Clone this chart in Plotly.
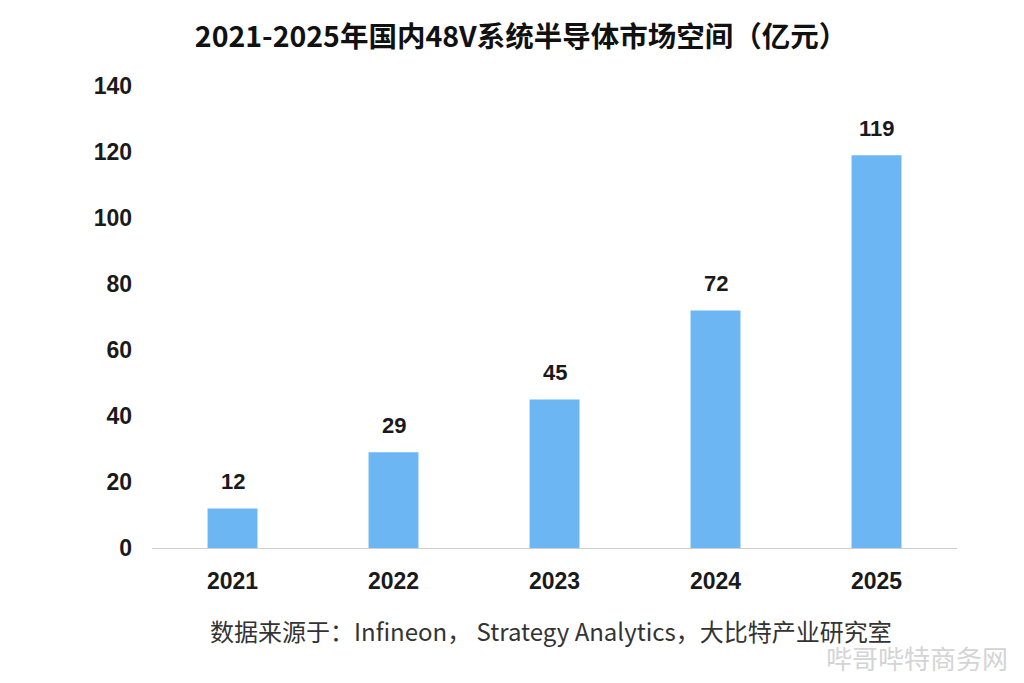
import plotly.graph_objects as go

years = ["2021", "2022", "2023", "2024", "2025"]
values = [12, 29, 45, 72, 119]
y_ticks = [0, 20, 40, 60, 80, 100, 120, 140]

title_text = "2021-2025年国内48V系统半导体市场空间（亿元）"
source_text = "数据来源于：Infineon， Strategy Analytics，大比特产业研究室"
watermark_text = "哔哥哔特商务网"

num_font = "Liberation Sans, Arial, Noto Sans CJK SC"
cjk_font = "Noto Sans CJK SC, Liberation Sans"

# plot area geometry (figure pixels)
L, R, T, B = 144, 949, 78, 540
W, H = 1024, 683

fig = go.Figure()
fig.add_trace(go.Bar(
    x=years, y=values,
    marker=dict(color="#6db6f4", line=dict(width=0)),
    width=0.31,
    hoverinfo="skip",
))

# value labels: category axis positions are addressed by index
for i, v in enumerate(values):
    fig.add_annotation(
        x=i, y=v, xref="x", yref="y", text=f"<b>{v}</b>", showarrow=False,
        yshift=27, yanchor="middle",
        font=dict(family=num_font, size=22, color="#1a1a1a"),
    )

fig.update_layout(
    width=W, height=H,
    margin=dict(l=L, r=W - R, t=T, b=H - B, autoexpand=False),
    paper_bgcolor="white", plot_bgcolor="white",
    showlegend=False,
    title=dict(
        text="<b>" + title_text + "</b>",
        x=513 / W, xanchor="center", y=1 - 29 / H, yanchor="middle",
        font=dict(family=cjk_font, size=28.5, color="#111111"),
    ),
)

fig.add_annotation(
    x=(543 - L) / (R - L), y=-(622 - B) / (B - T), xref="paper", yref="paper",
    text=source_text, showarrow=False, xanchor="center", yanchor="middle",
    font=dict(family=cjk_font, size=24, color="#333333"),
)
fig.add_annotation(
    x=(1002 - L) / (R - L), y=-(649 - B) / (B - T), xref="paper", yref="paper",
    text=watermark_text, showarrow=False, xanchor="right", yanchor="middle",
    font=dict(family=cjk_font, size=26, color="#d4d4d4"),
)

fig.update_xaxes(
    type="category", categoryorder="array", categoryarray=years, range=[-0.5, 4.5],
    showgrid=False, showline=True, linecolor="#d0d0d0", linewidth=1,
    ticks="", tickfont=dict(family=num_font, size=23, color="#1a1a1a", weight="bold"),
    ticklabelstandoff=12,
)
fig.update_yaxes(
    range=[0, 140], tickvals=y_ticks, showgrid=False, zeroline=False, showline=False,
    ticks="", tickfont=dict(family=num_font, size=23, color="#1a1a1a", weight="bold"),
    ticklabelstandoff=19,
)

fig.write_html("out.html")
